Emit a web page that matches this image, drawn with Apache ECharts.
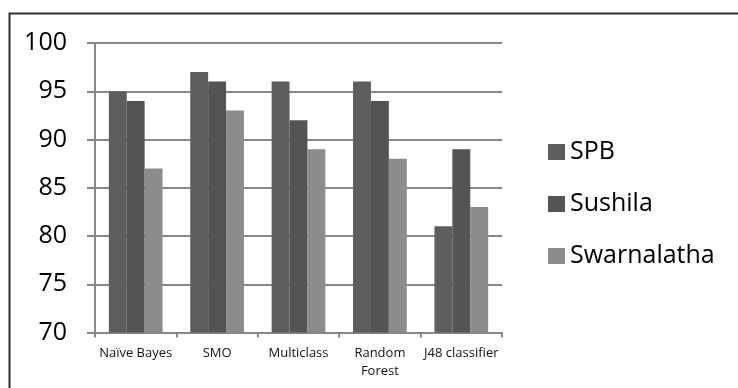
<!DOCTYPE html>
<html>
<head>
<meta charset="utf-8">
<script src="https://cdn.jsdelivr.net/npm/echarts@6/dist/echarts.min.js"></script>
<style>html,body{margin:0;padding:0;background:#fff;}#c{width:738px;height:388px;}</style>
</head>
<body>
<div id="c"></div>
<script>
var categories = ['Naïve Bayes', 'SMO', 'Multiclass', 'Random\nForest', 'J48 classifier'];
var spb = [95, 97, 96, 96, 81];
var sushila = [94, 96, 92, 94, 89];
var swarnalatha = [87, 93, 89, 88, 83];
var yTicks = {min: 70, max: 100, interval: 5};

var chart = echarts.init(document.getElementById('c'));
var FONT = 'Open Sans';
var gridColor = '#878787';
chart.setOption({
  animation: false,
  backgroundColor: '#fff',
  graphic: [{
    type: 'rect', left: 7, top: 11,
    shape: {x: 0, y: 0, width: 760, height: 420},
    style: {fill: 'none', stroke: '#2e2e2e', lineWidth: 2}
  }],
  grid: {left: 95, right: 236, top: 43, bottom: 55.5, containLabel: false},
  legend: {
    orient: 'vertical', left: 548, top: 139, padding: 0,
    itemWidth: 17, itemHeight: 16, itemGap: 26,
    icon: 'rect',
    textStyle: {fontFamily: FONT, fontSize: 25, color: '#000', lineHeight: 26},
    data: ['SPB', 'Sushila', 'Swarnalatha']
  },
  xAxis: {
    type: 'category', data: categories,
    axisLine: {lineStyle: {color: gridColor, width: 2}},
    axisTick: {show: true, length: 5, lineStyle: {color: gridColor, width: 2}},
    axisLabel: {fontFamily: FONT, fontSize: 13, color: '#111', margin: 12, lineHeight: 18, interval: 0}
  },
  yAxis: {
    type: 'value', min: yTicks.min, max: yTicks.max, interval: yTicks.interval,
    axisLine: {show: true, lineStyle: {color: gridColor, width: 2}},
    axisTick: {show: true, length: 8, lineStyle: {color: gridColor, width: 2}},
    splitLine: {lineStyle: {color: gridColor, width: 2}},
    axisLabel: {fontFamily: FONT, fontSize: 25, color: '#000', margin: 28}
  },
  series: [
    {name: 'SPB', type: 'bar', data: spb, barGap: '0%', barCategoryGap: '34%', itemStyle: {color: '#5e5e5e'}},
    {name: 'Sushila', type: 'bar', data: sushila, itemStyle: {color: '#545454'}},
    {name: 'Swarnalatha', type: 'bar', data: swarnalatha, itemStyle: {color: '#8c8c8c'}}
  ]
});
</script>
</body>
</html>
